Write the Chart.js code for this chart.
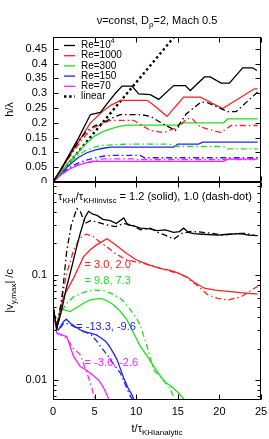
<!DOCTYPE html>
<html>
<head>
<meta charset="utf-8">
<script src="https://cdn.jsdelivr.net/npm/chart.js@4"></script>
<style>
  body { margin: 0; background: #fff; width: 269px; height: 439px; overflow: hidden; position: relative; }
  canvas { position: absolute; left: 0; }
</style>
</head>
<body>
<canvas id="top" width="269" height="183" style="top:0"></canvas>
<canvas id="bot" width="269" height="258" style="top:181px"></canvas>
<script>
const FONT = '"Liberation Sans", Arial, sans-serif';

// axis ticks
const xTicks = [0, 5, 10, 15, 20, 25];
const topYTicks = [0, 0.05, 0.1, 0.15, 0.2, 0.25, 0.3, 0.35, 0.4, 0.45];
const logTicks = [0.007, 0.008, 0.009, 0.01, 0.02, 0.03, 0.04, 0.05, 0.06, 0.07, 0.08, 0.09,
  0.1, 0.2, 0.3, 0.4, 0.5, 0.6, 0.7];
const logLabels = [0.01, 0.1];

// top panel: h/lambda vs t
const hT_re1e4 = [0, 1, 2, 3, 4, 4.5, 5.7, 6.5, 7.5, 8.3, 9.5, 10.3, 11.7, 12.7, 14.5, 15.9, 16.5, 18.2, 18.9, 20.2, 21.2, 22.8, 24.0, 24.5];
const h_re1e4 = [0, 0.045, 0.095, 0.145, 0.2, 0.228, 0.235, 0.265, 0.3, 0.324, 0.324, 0.298, 0.295, 0.279, 0.326, 0.326, 0.309, 0.355, 0.355, 0.334, 0.334, 0.386, 0.386, 0.377];
const hT_re1e4d = [0, 1, 2, 3, 4, 5, 6, 7, 8.1, 10.5, 11.7, 13, 14.7, 16, 17.8, 18.4, 21, 22, 24.6];
const h_re1e4d = [0, 0.045, 0.09, 0.135, 0.17, 0.19, 0.2, 0.215, 0.228, 0.228, 0.222, 0.2, 0.174, 0.23, 0.27, 0.27, 0.238, 0.238, 0.304];
const hT_re1000 = [0, 1, 2, 3, 4.5, 6, 7, 8.1, 11.3, 12, 13.7, 15.7, 17.7, 20.4, 24.2, 24.6];
const h_re1000 = [0, 0.042, 0.088, 0.133, 0.2, 0.24, 0.26, 0.276, 0.276, 0.262, 0.222, 0.287, 0.287, 0.248, 0.315, 0.315];
const hT_re1000d = [0, 1, 2, 3, 4, 5, 6.9, 9.7, 11.7, 13.3, 15.1, 16.1, 16.7, 17.7, 20.2, 21.4, 24.6];
const h_re1000d = [0, 0.042, 0.085, 0.125, 0.16, 0.185, 0.208, 0.208, 0.174, 0.167, 0.186, 0.214, 0.214, 0.186, 0.167, 0.191, 0.191];
const hT_re300 = [0, 1, 2, 3, 4, 5, 6, 7, 8, 9, 15, 15.5, 20.5, 21, 24.6];
const h_re300 = [0, 0.035, 0.07, 0.1, 0.13, 0.155, 0.17, 0.18, 0.188, 0.192, 0.192, 0.2, 0.2, 0.213, 0.213];
const hT_re300d = [0, 1, 2, 3, 4, 5, 6, 9, 14, 15, 20.5, 21, 24.6];
const h_re300d = [0, 0.035, 0.065, 0.09, 0.108, 0.118, 0.124, 0.128, 0.128, 0.12, 0.12, 0.112, 0.112];
const hT_re150 = [0, 1, 2, 3, 4, 5, 6, 7, 14.5, 15, 17.5, 18, 24.6];
const h_re150 = [0, 0.033, 0.058, 0.082, 0.098, 0.108, 0.114, 0.118, 0.118, 0.128, 0.128, 0.135, 0.135];
const hT_re150d = [0, 1, 2, 3, 4, 5, 6, 7, 10.5, 11, 24.6];
const h_re150d = [0, 0.03, 0.05, 0.064, 0.074, 0.081, 0.087, 0.09, 0.09, 0.082, 0.082];
const hT_re70 = [0, 1, 2, 3, 4, 5, 20.5, 21, 24.6];
const h_re70 = [0, 0.025, 0.044, 0.057, 0.065, 0.07, 0.07, 0.077, 0.077];
const hT_re70d = [0, 1, 2, 3, 4, 5, 6, 9.5, 10, 24.6];
const h_re70d = [0, 0.025, 0.045, 0.058, 0.066, 0.072, 0.078, 0.078, 0.076, 0.076];
const hT_linear = [0, 15];
const h_linear = [0, 0.505];

// bottom panel: |v_y,max|/c vs t
const vT_re1e4 = [0, 0.45, 1.0, 1.6, 2.26, 2.8, 3.26, 3.86, 4.27, 4.8, 5.3, 6.0, 6.9, 7.6, 8.5, 9.0, 9.7, 10.5, 11.7, 12.5, 13.5, 14.5, 15.2, 15.7, 16.3, 16.9, 18, 19.8, 21, 22.6, 23.5, 24.6];
const v_re1e4 = [0.05, 0.031, 0.045, 0.075, 0.12, 0.18, 0.248, 0.356, 0.405, 0.38, 0.37, 0.34, 0.33, 0.31, 0.35, 0.3, 0.295, 0.28, 0.275, 0.265, 0.27, 0.255, 0.26, 0.28, 0.255, 0.248, 0.245, 0.24, 0.245, 0.248, 0.24, 0.238];
const vT_re1e4d = [0, 0.45, 1.05, 1.65, 2.2, 2.86, 3.3, 3.86, 4.5, 5.3, 6.5, 7.5, 8.5, 9.5, 10.5, 11.7, 12.8, 13.5, 14.5, 15.5, 16.5, 17.8, 19, 20.5, 21.8, 23, 24.2];
const v_re1e4d = [0.05, 0.031, 0.058, 0.17, 0.3, 0.43, 0.4, 0.31, 0.33, 0.32, 0.3, 0.29, 0.31, 0.3, 0.27, 0.28, 0.25, 0.24, 0.22, 0.25, 0.26, 0.257, 0.25, 0.24, 0.248, 0.25, 0.24];
const vT_re1000 = [0, 0.45, 1.25, 2.45, 3.66, 4.5, 5.28, 6.5, 7.5, 8.9, 10, 11.7, 13, 14.1, 15, 16.1, 17, 18.2, 19.5, 21, 22.5, 24.6];
const v_re1000 = [0.05, 0.031, 0.062, 0.093, 0.149, 0.175, 0.195, 0.222, 0.195, 0.16, 0.14, 0.124, 0.115, 0.111, 0.105, 0.096, 0.085, 0.075, 0.072, 0.07, 0.068, 0.066];
const vT_re1000d = [0, 0.45, 1.05, 1.65, 2.45, 3.2, 4.0, 4.8, 5.5, 6.5, 7.5, 8.9, 10.9, 12.3, 13.7, 15, 16.1, 17.3, 18.6, 19.8, 21, 22.6, 24.2, 24.6];
const v_re1000d = [0.05, 0.031, 0.06, 0.104, 0.17, 0.225, 0.245, 0.235, 0.21, 0.185, 0.16, 0.139, 0.129, 0.12, 0.111, 0.104, 0.095, 0.08, 0.065, 0.06, 0.058, 0.062, 0.075, 0.078];
const vT_re300 = [0, 0.45, 0.85, 1.25, 2.05, 3.0, 3.66, 4.5, 5.7, 6.5, 7.3, 8.1, 8.9, 9.7, 10.5, 11.3, 12.1, 12.9, 13.5, 14.1, 14.9, 15.9];
const v_re300 = [0.05, 0.031, 0.048, 0.047, 0.045, 0.05, 0.054, 0.058, 0.06, 0.057, 0.052, 0.045, 0.0375, 0.028, 0.021, 0.017, 0.0135, 0.011, 0.0095, 0.0089, 0.0078, 0.0064];
const vT_re300d = [0, 0.45, 1.0, 1.65, 2.45, 3.2, 4.07, 5.0, 6.07, 7.0, 8.1, 8.5, 9.3, 10.1, 10.5, 11.3, 12.1, 13.3, 14.0, 14.6];
const v_re300d = [0.05, 0.031, 0.045, 0.054, 0.062, 0.066, 0.07, 0.072, 0.071, 0.067, 0.06, 0.056, 0.047, 0.038, 0.033, 0.021, 0.0125, 0.0099, 0.0085, 0.0066];
const vT_re150 = [0, 0.45, 0.64, 1.25, 1.6, 2.05, 3.0, 3.66, 4.5, 5.2, 5.7, 6.3, 6.7, 7.2, 7.7, 8.1, 8.5, 9.0, 9.5, 9.7];
const v_re150 = [0.05, 0.031, 0.03, 0.036, 0.038, 0.035, 0.031, 0.029, 0.028, 0.027, 0.0255, 0.0235, 0.0215, 0.0185, 0.0157, 0.0128, 0.0105, 0.0085, 0.0072, 0.0066];
const vT_re150d = [0, 0.45, 0.7, 1.3, 2.0, 3.0, 3.8, 4.6, 5.28, 5.9, 6.5, 7.2, 8.1, 8.7, 9.3, 9.6];
const v_re150d = [0.05, 0.031, 0.03, 0.035, 0.034, 0.031, 0.029, 0.027, 0.0234, 0.02, 0.0175, 0.0145, 0.0117, 0.009, 0.007, 0.0065];
const vT_re70 = [0, 0.45, 1.0, 1.65, 2.45, 3.26, 4.0, 4.87, 5.5, 6.07, 6.7];
const v_re70 = [0.05, 0.028, 0.027, 0.026, 0.017, 0.0135, 0.0125, 0.011, 0.01, 0.0085, 0.0066];
const vT_re70d = [0, 0.45, 1.0, 1.65, 2.45, 3.26, 4.07, 4.67, 5.0];
const v_re70d = [0.05, 0.028, 0.027, 0.025, 0.02, 0.0175, 0.0118, 0.0085, 0.0066];

const BLACK = '#000000', RED = '#ff2020', GREEN = '#22dd22', BLUE = '#2222ff', MAGENTA = '#ff22ff';
const DASHDOT = [6, 3, 1.5, 3];

function pts(xs, ys) {
  return xs.map((x, i) => ({ x: x, y: ys[i] }));
}

function line(xs, ys, color, dashed) {
  return {
    data: pts(xs, ys),
    borderColor: color,
    borderWidth: 1.3,
    borderDash: dashed ? DASHDOT : [],
    pointRadius: 0,
    tension: 0,
    fill: false,
  };
}

// draw text with sub/superscripts: parts = [[text, mode], ...]
function rich(ctx, parts, x, y, size, color, align) {
  ctx.save();
  ctx.fillStyle = color;
  ctx.textBaseline = 'middle';
  ctx.textAlign = 'left';
  const small = Math.round(size * 0.72);
  let w = 0;
  parts.forEach(([t, m]) => {
    ctx.font = (m ? small : size) + 'px ' + FONT;
    w += ctx.measureText(t).width;
  });
  let cx = align === 'center' ? x - w / 2 : x;
  parts.forEach(([t, m]) => {
    ctx.font = (m ? small : size) + 'px ' + FONT;
    const dy = m === 'sub' ? size * 0.35 : m === 'sup' ? -size * 0.4 : 0;
    ctx.fillText(t, cx, y + dy);
    cx += ctx.measureText(t).width;
  });
  ctx.restore();
}

// gnuplot style frame with inward ticks
function frame(chart, yMajor, yMinor) {
  const { ctx, chartArea: a, scales } = chart;
  const L = Math.round(a.left) + 0.5, R = Math.round(a.right) - 0.5;
  const T = Math.round(a.top) + 0.5, B = Math.round(a.bottom) - 0.5;
  ctx.save();
  ctx.strokeStyle = '#000';
  ctx.lineWidth = 1;
  ctx.strokeRect(L, T, R - L, B - T);
  ctx.beginPath();
  xTicks.forEach(v => {
    const p = Math.round(scales.x.getPixelForValue(v)) + 0.5;
    ctx.moveTo(p, B); ctx.lineTo(p, B - 5);
    ctx.moveTo(p, T); ctx.lineTo(p, T + 5);
  });
  yMajor.forEach(v => {
    const p = Math.round(scales.y.getPixelForValue(v)) + 0.5;
    ctx.moveTo(L, p); ctx.lineTo(L + 5, p);
    ctx.moveTo(R, p); ctx.lineTo(R - 5, p);
  });
  yMinor.forEach(v => {
    const p = Math.round(scales.y.getPixelForValue(v)) + 0.5;
    ctx.moveTo(L, p); ctx.lineTo(L + 3, p);
    ctx.moveTo(R, p); ctx.lineTo(R - 3, p);
  });
  ctx.stroke();
  ctx.restore();
}

// fixed axis box so the two panels line up
function fixY(s) {
  s.width = 53;
  s.paddingTop = 0;
  s.paddingBottom = 0;
}
function fixX(s) {
  s.paddingLeft = 0;
  s.paddingRight = 0;
}

const legendEntries = [
  { parts: [['Re=10', ''], ['4', 'sup']], color: BLACK },
  { parts: [['Re=1000', '']], color: RED },
  { parts: [['Re=300', '']], color: GREEN },
  { parts: [['Re=150', '']], color: BLUE },
  { parts: [['Re=70', '']], color: MAGENTA },
  { parts: [['linear', '']], color: BLACK, dotted: true },
];

const topDecor = {
  id: 'topDecor',
  afterDatasetsDraw(chart) {
    const { ctx, chartArea: a } = chart;
    frame(chart, topYTicks, []);
    // legend
    legendEntries.forEach((e, i) => {
      const y = 45.5 + i * 10.2;
      ctx.save();
      ctx.strokeStyle = e.color;
      ctx.lineWidth = e.dotted ? 2.4 : 1.3;
      ctx.setLineDash(e.dotted ? [2.4, 2.8] : []);
      ctx.beginPath();
      ctx.moveTo(64, y); ctx.lineTo(75, y);
      ctx.stroke();
      ctx.restore();
      rich(ctx, e.parts, 81, y, 10, '#000', 'left');
    });
    // title and y label
    rich(ctx, [['ν=const, D', ''], ['ρ', 'sub'], ['=2, Mach 0.5', '']], (a.left + a.right) / 2, 21, 11, '#000', 'center');
    ctx.save();
    ctx.translate(10, (a.top + a.bottom) / 2);
    ctx.rotate(-Math.PI / 2);
    rich(ctx, [['h/λ', '']], 0, 0, 11, '#000', 'center');
    ctx.restore();
  }
};

const botNotes = [
  { parts: [['= 3.0, 2.0', '']], color: RED, t: 3.8, v: 0.124 },
  { parts: [['= 9.8, 7.3', '']], color: GREEN, t: 3.8, v: 0.0877 },
  { parts: [['= -13.3, -9.6', '']], color: BLUE, t: 2.8, v: 0.032 },
  { parts: [['= -3.6, -2.6', '']], color: MAGENTA, t: 3.8, v: 0.0146 },
];

const botDecor = {
  id: 'botDecor',
  afterDatasetsDraw(chart) {
    const { ctx, chartArea: a, scales } = chart;
    frame(chart, logLabels, logTicks.filter(v => !logLabels.includes(v)));
    botNotes.forEach(n => {
      rich(ctx, n.parts, scales.x.getPixelForValue(n.t), scales.y.getPixelForValue(n.v), 11, n.color, 'left');
    });
    rich(ctx, [['τ', ''], ['KHI', 'sub'], ['/τ', ''], ['KHIinvisc', 'sub'], [' = 1.2 (solid), 1.0 (dash-dot)', '']],
      (a.left + a.right) / 2 - 2, a.top + 15, 11, '#000', 'center');
    rich(ctx, [['t/τ', ''], ['KHIanalytic', 'sub']], (a.left + a.right) / 2, a.bottom + 29, 11, '#000', 'center');
    ctx.save();
    ctx.translate(10, (a.top + a.bottom) / 2);
    ctx.rotate(-Math.PI / 2);
    rich(ctx, [['|v', ''], ['y,max', 'sub'], ['| /c', '']], 0, 0, 11, '#000', 'center');
    ctx.restore();
  }
};

const tickFont = { family: FONT, size: 11 };

new Chart(document.getElementById('top'), {
  type: 'line',
  data: {
    datasets: [
      line(hT_re1e4, h_re1e4, BLACK, false),
      line(hT_re1e4d, h_re1e4d, BLACK, true),
      line(hT_re1000, h_re1000, RED, false),
      line(hT_re1000d, h_re1000d, RED, true),
      line(hT_re300, h_re300, GREEN, false),
      line(hT_re300d, h_re300d, GREEN, true),
      line(hT_re150, h_re150, BLUE, false),
      line(hT_re150d, h_re150d, BLUE, true),
      line(hT_re70, h_re70, MAGENTA, false),
      line(hT_re70d, h_re70d, MAGENTA, true),
      Object.assign(line(hT_linear, h_linear, BLACK, false), { borderWidth: 2.4, borderDash: [2.4, 2.8] }),
    ]
  },
  options: {
    responsive: false,
    animation: false,
    events: [],
    layout: { padding: { top: 37, right: 8, left: 0, bottom: 1 } },
    plugins: { legend: { display: false }, tooltip: { enabled: false } },
    scales: {
      x: { type: 'linear', min: 0, max: 25, display: false },
      y: {
        type: 'linear', min: 0, max: 0.49,
        afterBuildTicks: s => { s.ticks = topYTicks.map(v => ({ value: v })); },
        afterFit: fixY,
        grid: { display: false, drawTicks: false },
        border: { display: false },
        ticks: { font: tickFont, color: '#000', padding: 6, autoSkip: false, callback: v => String(v) },
      }
    }
  },
  plugins: [topDecor]
});

new Chart(document.getElementById('bot'), {
  type: 'line',
  data: {
    datasets: [
      line(vT_re1e4, v_re1e4, BLACK, false),
      line(vT_re1e4d, v_re1e4d, BLACK, true),
      line(vT_re1000, v_re1000, RED, false),
      line(vT_re1000d, v_re1000d, RED, true),
      line(vT_re300, v_re300, GREEN, false),
      line(vT_re300d, v_re300d, GREEN, true),
      line(vT_re150, v_re150, BLUE, false),
      line(vT_re150d, v_re150d, BLUE, true),
      line(vT_re70, v_re70, MAGENTA, false),
      line(vT_re70d, v_re70d, MAGENTA, true),
    ]
  },
  options: {
    responsive: false,
    animation: false,
    events: [],
    layout: { padding: { top: 1, right: 8, left: 0, bottom: 14 } },
    plugins: { legend: { display: false }, tooltip: { enabled: false } },
    scales: {
      x: {
        type: 'linear', min: 0, max: 25,
        afterBuildTicks: s => { s.ticks = xTicks.map(v => ({ value: v })); },
        afterFit: fixX,
        grid: { display: false, drawTicks: false },
        border: { display: false },
        ticks: { font: tickFont, color: '#000', padding: 6, autoSkip: false, maxRotation: 0, callback: v => String(v) },
      },
      y: {
        type: 'logarithmic', min: 0.0065, max: 0.77,
        afterBuildTicks: s => { s.ticks = logTicks.map(v => ({ value: v })); },
        afterFit: fixY,
        grid: { display: false, drawTicks: false },
        border: { display: false },
        ticks: { font: tickFont, color: '#000', padding: 6, autoSkip: false, callback: v => logLabels.includes(v) ? String(v) : '' },
      }
    }
  },
  plugins: [botDecor]
});
</script>
</body>
</html>
